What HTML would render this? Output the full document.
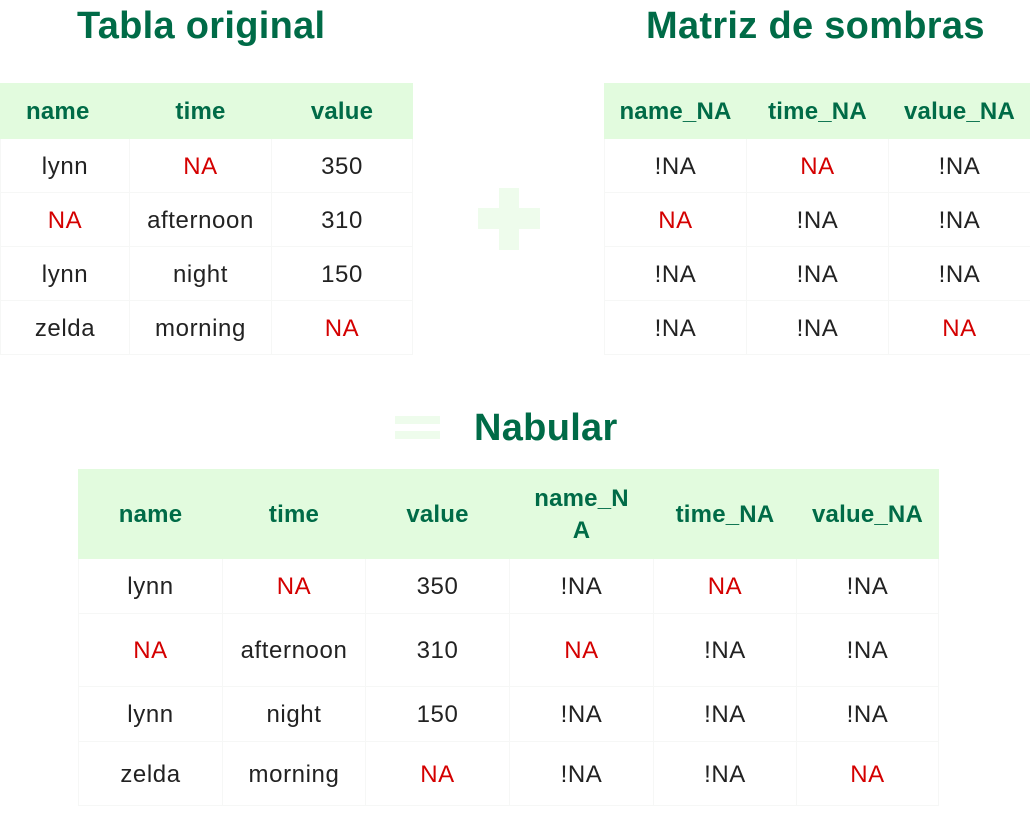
<!DOCTYPE html>
<html><head><meta charset="utf-8"><style>
body{margin:0;width:1030px;height:816px;background:#fff;position:relative;overflow:hidden;font-family:"Liberation Sans",Arial,sans-serif;}
.t{position:absolute;font-weight:bold;color:#006b47;font-size:38px;white-space:nowrap;letter-spacing:0.3px;}
table{position:absolute;border-collapse:collapse;table-layout:fixed;}
td{text-align:center;font-size:24px;color:#222;border:1px solid #f6f7f6;padding:0;letter-spacing:0.6px;padding-top:2px;}
tr.h td{background:#e2fbde;color:#006b47;font-weight:bold;border-color:#e2fbde;font-size:24px;letter-spacing:0.2px;}
.r{color:#d40000;}
</style></head><body>
<div class="t" style="left:77px;top:5px;">Tabla original</div>
<div class="t" style="left:646px;top:5px;">Matriz de sombras</div>
<div class="t" style="left:474px;top:407px;">Nabular</div>
<div style="position:absolute;left:499px;top:188px;width:20px;height:62px;background:#eefcec"></div>
<div style="position:absolute;left:478px;top:208px;width:62px;height:21px;background:#eefcec"></div>
<div style="position:absolute;left:395px;top:416px;width:45px;height:8px;background:#eefcec"></div>
<div style="position:absolute;left:395px;top:431px;width:45px;height:8px;background:#eefcec"></div>

<table style="left:0;top:83px;width:412px;">
<colgroup><col style="width:129px"><col style="width:142px"><col style="width:141px"></colgroup>
<tr class="h" style="height:55px"><td style="text-align:left;padding-left:25px">name</td><td>time</td><td>value</td></tr>
<tr style="height:54px"><td>lynn</td><td class="r">NA</td><td>350</td></tr>
<tr style="height:54px"><td class="r">NA</td><td>afternoon</td><td>310</td></tr>
<tr style="height:54px"><td>lynn</td><td>night</td><td>150</td></tr>
<tr style="height:54px"><td>zelda</td><td>morning</td><td class="r">NA</td></tr>
</table>

<table style="left:604px;top:83px;width:426px;">
<colgroup><col style="width:142px"><col style="width:142px"><col style="width:142px"></colgroup>
<tr class="h" style="height:55px"><td>name_NA</td><td>time_NA</td><td>value_NA</td></tr>
<tr style="height:54px"><td>!NA</td><td class="r">NA</td><td>!NA</td></tr>
<tr style="height:54px"><td class="r">NA</td><td>!NA</td><td>!NA</td></tr>
<tr style="height:54px"><td>!NA</td><td>!NA</td><td>!NA</td></tr>
<tr style="height:54px"><td>!NA</td><td>!NA</td><td class="r">NA</td></tr>
</table>

<table style="left:78px;top:469px;width:860px;">
<colgroup><col style="width:144px"><col style="width:143px"><col style="width:144px"><col style="width:144px"><col style="width:143px"><col style="width:142px"></colgroup>
<tr class="h" style="height:89px"><td>name</td><td>time</td><td>value</td><td style="line-height:32px">name_N<br>A</td><td>time_NA</td><td>value_NA</td></tr>
<tr style="height:55px"><td>lynn</td><td class="r">NA</td><td>350</td><td>!NA</td><td class="r">NA</td><td>!NA</td></tr>
<tr style="height:73px"><td class="r">NA</td><td>afternoon</td><td>310</td><td class="r">NA</td><td>!NA</td><td>!NA</td></tr>
<tr style="height:55px"><td>lynn</td><td>night</td><td>150</td><td>!NA</td><td>!NA</td><td>!NA</td></tr>
<tr style="height:64px"><td>zelda</td><td>morning</td><td class="r">NA</td><td>!NA</td><td>!NA</td><td class="r">NA</td></tr>
</table>
</body></html>
